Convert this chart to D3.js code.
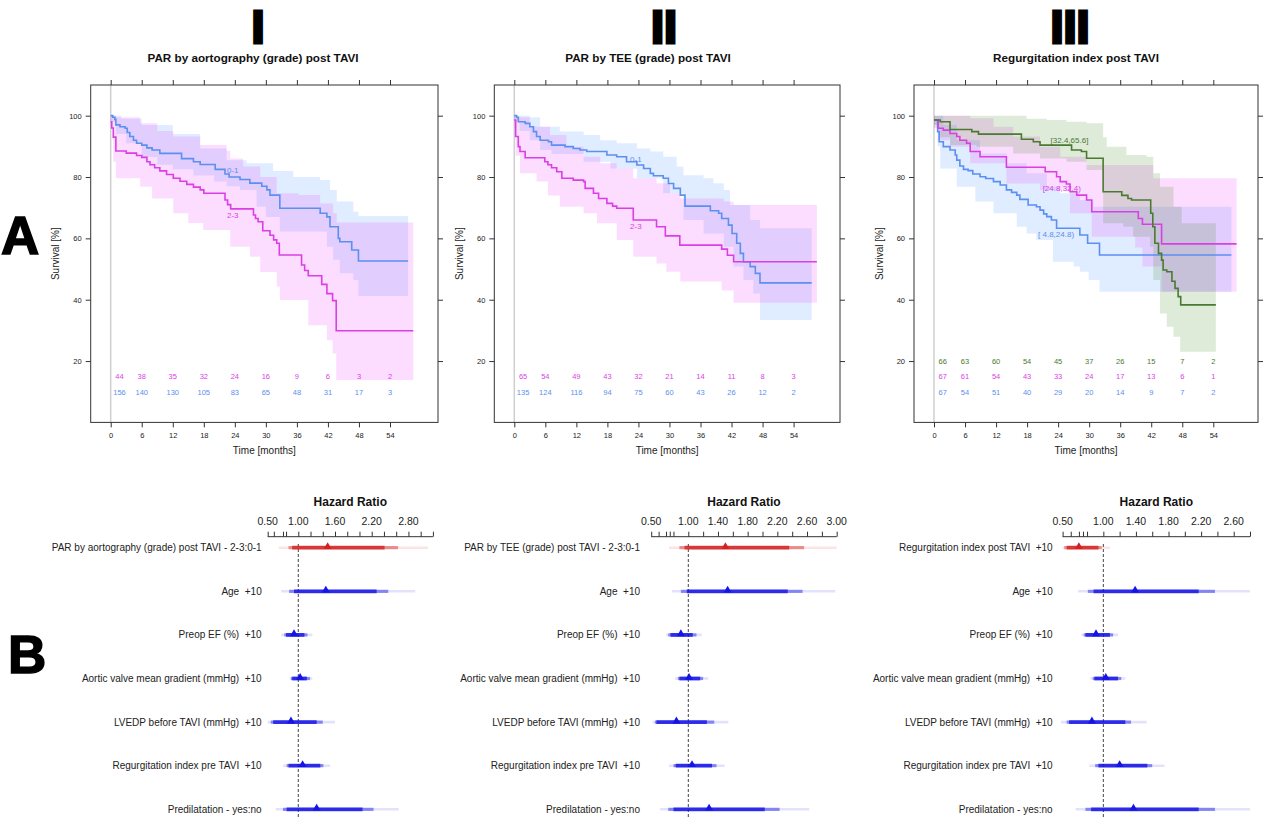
<!DOCTYPE html>
<html><head><meta charset="utf-8">
<script src="https://cdn.jsdelivr.net/npm/d3@7/dist/d3.min.js"></script>
<style>
body{margin:0;background:#fff}
svg{display:block}
text{font-family:"Liberation Sans",Arial,Helvetica,sans-serif}
.pre{white-space:pre}
</style>
</head><body>
<script>
// ================= DATA =================
const riskTimes = [0,6,12,18,24,30,36,42,48,54];
const xTicksKM = [0,6,12,18,24,30,36,42,48,54];
const yTicksKM = [20,40,60,80,100];

// Panel I : PAR by aortography
const p1_01_line = [[0,100],[0.4,99.5],[0.8,98.8],[1,97],[1.8,96.4],[2.8,95.9],[3.2,94.5],[3.7,93.2],[4.4,92],[5,91],[6,90.4],[7,89.5],[8,88.8],[9.5,87.7],[13.7,86],[16,85],[17.3,84.1],[20.2,82.5],[22.1,81],[22.9,80],[25,79.2],[26.9,78],[29.2,77],[30.2,75.8],[30.8,74.1],[32.7,69.8],[40.5,68.2],[41.8,67],[42.4,63.8],[44,60],[44.3,58.9],[46.6,56.2],[47.9,52.6],[57.5,52.6]];
const p1_01_lo = [[0,98],[1,94],[3,91],[6,86.5],[9,84],[12,82.5],[16,80.5],[20,78.5],[22.4,77],[25,75.8],[28.2,70.3],[30,67],[32.7,62.2],[41.8,57.3],[43,53],[44.3,48.6],[46.9,46.4],[47.9,41.2]];
const p1_01_hi = [[0,100],[2,99],[6,97],[12,94],[17.3,89.3],[22.4,85.5],[26.3,84.5],[31.4,82],[35.3,80],[40.5,79],[42.4,75.8],[43.7,72],[46.9,68.7],[47.9,67.3]];
const p1_23_line = [[0,98],[0.2,96],[0.5,93],[1,88.5],[3,87.8],[5,87],[6,86.4],[7,85],[7.6,84],[8.5,83],[9.5,82],[10.8,80.8],[12.1,79.6],[13.4,78.6],[14.7,77.6],[16,76.7],[17.3,75.8],[18,74.7],[22.1,72.5],[22.6,71],[23.2,69.6],[27.6,67.6],[28,66.5],[28.5,65.4],[29.4,62.5],[30.8,61],[31.5,59.5],[32.1,58.4],[32.6,54.6],[36.9,51.3],[37.5,49.5],[38.2,47.8],[40.8,45],[41.8,42],[42.9,39.7],[43.6,29.9],[58.5,29.9]];
const p1_23_lo = [[0,96],[0.5,85],[1,79.6],[5.7,76.8],[8,73],[12.1,68.2],[15,65],[17.9,62.7],[23.1,57.3],[26.9,54],[28.9,49],[32.1,44.2],[32.7,39.9],[38.2,31.7],[41.8,26.8],[42.9,22.5],[43.6,13.8]];
const p1_23_hi = [[0,100],[1,99.5],[5.7,97.5],[9,95],[12.1,93.2],[17.3,90.4],[22.4,88.6],[23.1,86],[25.6,83.4],[28.9,80],[32.1,74.7],[36.3,74.1],[40.5,71.4],[43,68.2],[43.7,65.2]];
const p1_risk_23 = [44,38,35,32,24,16,9,6,3,2];
const p1_risk_01 = [156,140,130,105,83,65,48,31,17,3];

// Panel II : PAR by TEE
const p2_01_line = [[0,100],[0.45,99.5],[0.77,98],[2.1,97.5],[3,96.4],[3.7,94.8],[4.3,93.2],[5,92],[6.6,91.5],[7.2,90.4],[9.8,89.9],[11.4,89.3],[12.7,88.8],[14,88.3],[17.9,87.2],[19.8,86.6],[21.7,85],[23.7,83.9],[25,82.8],[26.3,81.2],[26.9,80.4],[28.8,79.6],[29.8,77.9],[30.8,76.3],[32.1,74.1],[33,70.5],[37.9,69],[39.5,68.2],[40.1,66.5],[41.4,64.3],[42.1,61.6],[43,58.4],[43.7,55.1],[44.3,52.4],[45.6,50.8],[46.6,48.6],[47.5,45.5],[57.5,45.5]];
const p2_01_lo = [[0,98],[1,95],[3,92],[5,88.8],[7.2,87.5],[13.4,85],[18.6,82.8],[23.7,79.6],[28.8,74.7],[32.7,66],[36.6,61.6],[40.5,57.3],[42.4,50.8],[44.3,46.4],[46.2,42],[47.5,33.4]];
const p2_01_hi = [[0,100],[3,99.5],[5,96.4],[8.8,94.8],[13.4,93.7],[16.6,92],[19.8,91],[23.7,89.3],[26.3,88.3],[28.8,86.6],[31.4,83.4],[32.7,80.6],[36.6,79.6],[38.5,78],[40.5,75.8],[41.7,70.9],[45.6,66],[47.5,63.3]];
const p2_23_line = [[0,98.6],[0.26,93.2],[0.77,89.9],[1.1,88.3],[2.1,86.3],[5.9,85],[6.5,84],[7.2,83],[8.2,81.7],[9.2,79.6],[11.4,79],[13.4,78.5],[13.7,76.3],[15.3,74.7],[16.3,73],[17.9,71.4],[19,70.5],[19.8,69.8],[23,66],[27.5,63.8],[29.2,60.8],[32,57.8],[40.1,56.5],[41.2,54.5],[42.4,52.4],[58.5,52.4]];
const p2_23_lo = [[0,96],[0.26,87],[1.1,81.2],[4.3,78.5],[6.5,74],[8.8,70.3],[13.4,68.2],[16,64.9],[19.8,59.5],[23,54],[27.5,51.8],[29.4,49.1],[32.1,45.9],[40.1,43],[42.4,39]];
const p2_23_hi = [[0,100],[0.26,99.5],[3,96.4],[6.9,93.7],[10.1,89.9],[13.4,86.6],[16.6,84.5],[19.8,82.8],[23,79.6],[27.5,78],[30.1,74.7],[32.1,73],[40.5,72],[42.4,70.9]];
const p2_risk_23 = [65,54,49,43,32,21,14,11,8,3];
const p2_risk_01 = [135,124,116,94,75,60,43,26,12,2];

// Panel III : Regurgitation index post TAVI
const p3_a_line = [[0,98.6],[0.7,94.8],[1,91.5],[1.8,89.9],[3.1,88.8],[4.1,87.2],[4.4,85.5],[5,83.6],[5.7,82.5],[6.6,82.1],[7.5,81],[8.9,80.1],[10,79.5],[11.5,78.5],[12.8,77.4],[14,75.8],[15,75],[16,74.1],[16.6,72.7],[18.2,70.9],[19.8,70.3],[20.5,69.2],[21.2,68],[21.8,67.1],[22.7,66],[23.7,63.3],[28.2,61.1],[29.7,58.4],[32,54.6],[57.5,54.6]];
const p3_a_lo = [[0,97],[0.7,90],[1.2,82.8],[4.4,76.8],[8,72],[11.5,68.2],[16,63.8],[17.9,61.6],[19.8,59.5],[23,52.4],[27,50.8],[28.2,49.1],[29.9,46.4],[32,42.6]];
const p3_a_hi = [[0,100],[1.8,97],[4.4,92],[8.9,87.7],[14,84.5],[17.9,81.2],[21.8,76.8],[24.4,74.7],[28.2,72.5],[30.8,70.3]];
const p3_b_line = [[0,98.6],[0.8,95.9],[1.8,95.3],[3.1,94.2],[4.4,93.2],[5,92],[6.3,91],[7,88.3],[8.9,86.6],[14,83.2],[21.5,81.7],[23.7,80.1],[24.4,78.5],[25.6,77.7],[26.3,75.2],[27.6,74.1],[29.5,72.5],[30.5,68.7],[39.5,66.5],[40.3,64.6],[44,58.2],[58.5,58.2]];
const p3_b_lo = [[0,97],[0.8,92],[3.1,89.9],[7,84.5],[14,77.9],[20.5,75.8],[26.3,68.2],[30.5,60.5],[38.9,57],[40.3,50.8],[44,42.6]];
const p3_b_hi = [[0,100],[7,99.2],[11.5,96.4],[15.3,93.2],[20.5,89.9],[24.4,86.6],[29.5,83.9],[42.4,79.6]];
const p3_c_line = [[0,98.6],[1.2,98],[3.1,95.5],[7.3,94.8],[8.6,94],[16.9,92.3],[19.2,91.5],[20.5,90.4],[26.6,88.8],[28.5,88.3],[29.5,86.1],[32.7,75.2],[36.3,74],[37.5,73],[38.2,72.5],[41.9,68.2],[42.3,63.8],[42.7,58.4],[43.4,55.1],[44,52.9],[44.3,49.7],[45,49.1],[46,46],[46.6,43.7],[47.2,41],[47.7,38.3],[54.5,38.3]];
const p3_c_lo = [[0,96],[1.2,93],[3.1,90.4],[8.2,89.9],[15.3,87.7],[20.5,86],[25.6,85],[29.5,82.3],[32.7,64.9],[36.6,63.8],[38.5,60.5],[41.8,57.3],[42.4,46.4],[43.7,35.5],[45,31.2],[46.3,27.9],[47.6,23]];
const p3_c_hi = [[0,100],[17.9,99],[21.8,98.6],[25.6,98],[29.5,97.5],[32.7,93],[33.4,89.9],[37.2,87.2],[41.1,86.6],[42.4,81.2],[43.7,76.8],[46.3,70.3],[47.9,64.9]];
const p3_risk_c = [66,63,60,54,45,37,26,15,7,2];
const p3_risk_b = [67,61,54,43,33,24,17,13,6,1];
const p3_risk_a = [67,54,51,40,29,20,14,9,7,2];

// Forest plots (hazard ratios with 90/95/99% intervals)
const fI_labels = ["PAR by aortography (grade) post TAVI - 2-3:0-1","Age  +10","Preop EF (%)  +10","Aortic valve mean gradient (mmHg)  +10","LVEDP before TAVI (mmHg)  +10","Regurgitation index pre TAVI  +10","Predilatation - yes:no"];
const fI_est  = [1.48,1.45,0.93,1.03,0.88,1.07,1.30];
const fI_lo90 = [0.90,0.93,0.80,0.90,0.59,0.84,0.81];
const fI_hi90 = [2.41,2.28,1.10,1.14,1.30,1.36,2.05];
const fI_lo95 = [0.84,0.85,0.77,0.88,0.55,0.81,0.75];
const fI_hi95 = [2.63,2.47,1.15,1.19,1.40,1.41,2.23];
const fI_lo99 = [0.68,0.72,0.72,0.86,0.50,0.75,0.63];
const fI_hi99 = [3.12,2.91,1.23,1.23,1.60,1.52,2.64];
const fI_ticks = [0.5,0.6,0.75,0.8,1.0,1.2,1.4,1.6,1.8,2.0,2.2,2.4,2.6,2.8,3.0,3.2];
const fI_tickLabels = [0.5,1.0,1.6,2.2,2.8];

const fII_labels = ["PAR by TEE (grade) post TAVI - 2-3:0-1","Age  +10","Preop EF (%)  +10","Aortic valve mean gradient (mmHg)  +10","LVEDP before TAVI (mmHg)  +10","Regurgitation index pre TAVI  +10","Predilatation - yes:no"];
const fII_est  = [1.50,1.53,0.90,1.01,0.84,1.05,1.28];
const fII_lo90 = [0.95,0.98,0.76,0.88,0.57,0.83,0.80];
const fII_hi90 = [2.36,2.34,1.06,1.16,1.25,1.32,2.03];
const fII_lo95 = [0.88,0.90,0.73,0.86,0.55,0.80,0.73];
const fII_hi95 = [2.56,2.54,1.11,1.20,1.35,1.38,2.23];
const fII_lo99 = [0.74,0.78,0.70,0.82,0.52,0.74,0.62];
const fII_hi99 = [3.02,2.98,1.18,1.27,1.54,1.49,2.63];
const fII_ticks = [0.5,0.6,0.7,0.75,0.8,1.0,1.2,1.4,1.6,1.8,2.0,2.2,2.4,2.6,2.8,3.0];
const fII_tickLabels = [0.5,1.0,1.4,1.8,2.2,2.6,3.0];

const fIII_labels = ["Regurgitation index post TAVI  +10","Age  +10","Preop EF (%)  +10","Aortic valve mean gradient (mmHg)  +10","LVEDP before TAVI (mmHg)  +10","Regurgitation index pre TAVI  +10","Predilatation - yes:no"];
const fIII_est  = [0.70,1.39,0.91,1.03,0.86,1.20,1.37];
const fIII_lo90 = [0.55,0.88,0.78,0.89,0.58,0.94,0.85];
const fIII_hi90 = [0.94,2.17,1.08,1.18,1.27,1.54,2.17];
const fIII_lo95 = [0.52,0.81,0.76,0.87,0.55,0.90,0.78];
const fIII_hi95 = [0.98,2.37,1.12,1.22,1.34,1.60,2.37];
const fIII_lo99 = [0.50,0.69,0.73,0.84,0.48,0.83,0.66];
const fIII_hi99 = [1.08,2.80,1.18,1.27,1.53,1.75,2.80];
const fIII_ticks = [0.5,0.6,0.7,0.75,0.8,1.0,1.2,1.4,1.6,1.8,2.0,2.2,2.4,2.6,2.8];
const fIII_tickLabels = [0.5,1.0,1.4,1.8,2.2,2.6];

// ================= STYLE =================
const C = {
  blue:{line:"#5b8ff0", fill:"#2f7fff", op:0.15},
  pink:{line:"#d93fe3", fill:"#ee44ff", op:0.18},
  green:{line:"#4a7a30", fill:"#3a8a20", op:0.17}
};
const FB = {blue:[20,20,230], red:[212,32,32]};

const svg = d3.select("body").append("svg").attr("width",1266).attr("height",818);

// Big letters
svg.append("text").attr("x",1).attr("y",254).attr("font-size",53).attr("font-weight","bold")
  .attr("stroke","#000").attr("stroke-width",1.5).text("A");
svg.append("text").attr("x",8).attr("y",673).attr("font-size",53).attr("font-weight","bold")
  .attr("stroke","#000").attr("stroke-width",1.5).text("B");

function mergeBand(lo, hi, end){
  const ts = Array.from(new Set([...lo.map(d=>d[0]), ...hi.map(d=>d[0])])).sort((a,b)=>a-b);
  const val=(arr,t)=>{let v=arr[0][1]; for(const d of arr){ if(d[0]<=t) v=d[1]; } return v;};
  const pts = ts.map(t=>({t, lo:val(lo,t), hi:val(hi,t)}));
  pts.push({t:end, lo:val(lo,end), hi:val(hi,end)});
  return pts;
}

function drawKM(cfg){
  const g = svg.append("g");
  const x = d3.scaleLinear().domain([0,54]).range([cfg.x0, cfg.x0+279.3]);
  const y = d3.scaleLinear().domain([0,110]).range([422.4, 85]);
  const top=85, bot=422.4;
  // numeral & title
  g.append("text").attr("x",cfg.numX).attr("y",42.8).attr("text-anchor","middle")
    .attr("font-size",47).attr("font-weight","bold").attr("stroke","#000").attr("stroke-width",3)
    .attr("stroke-linejoin","miter").text(cfg.numeral);
  g.append("text").attr("x",cfg.titleX).attr("y",61.5).attr("text-anchor","middle")
    .attr("font-size",11.7).attr("font-weight","bold").attr("fill","#111").text(cfg.title);
  const clipId = "clip"+cfg.numeral;
  g.append("clipPath").attr("id",clipId).append("rect")
    .attr("x",cfg.boxL).attr("y",top).attr("width",cfg.boxR-cfg.boxL).attr("height",bot-top);
  const plot = g.append("g").attr("clip-path",`url(#${clipId})`);
  // zero line
  plot.append("line").attr("x1",x(0)).attr("x2",x(0)).attr("y1",top).attr("y2",bot)
    .attr("stroke","#cfcfcf").attr("stroke-width",1.5);
  // bands
  const area = d3.area().curve(d3.curveStepAfter).x(d=>x(d.t)).y0(d=>y(d.lo)).y1(d=>y(d.hi));
  cfg.groups.forEach(gr=>{
    const end = gr.line[gr.line.length-1][0];
    plot.append("path").datum(mergeBand(gr.lo, gr.hi, end)).attr("d",area)
      .attr("fill",C[gr.col].fill).attr("fill-opacity",C[gr.col].op);
  });
  const line = d3.line().curve(d3.curveStepAfter).x(d=>x(d[0])).y(d=>y(d[1]));
  cfg.groups.forEach(gr=>{
    plot.append("path").datum(gr.line).attr("d",line).attr("fill","none")
      .attr("stroke",C[gr.col].line).attr("stroke-width",1.6);
    plot.append("text").attr("x",x(gr.lab[0])).attr("y",y(gr.lab[1])).attr("dy","0.35em")
      .attr("text-anchor","middle").attr("font-size",8).attr("fill",C[gr.col].line).text(gr.name);
    gr.risk.forEach((n,i)=>{
      plot.append("text").attr("x",x(Math.max(riskTimes[i],1.7))).attr("y",y(gr.riskY)).attr("dy","0.35em")
        .attr("text-anchor","middle").attr("font-size",7.5).attr("fill",C[gr.col].line).text(n);
    });
  });
  // box
  g.append("rect").attr("x",cfg.boxL).attr("y",top).attr("width",cfg.boxR-cfg.boxL).attr("height",bot-top)
    .attr("fill","none").attr("stroke","#333").attr("stroke-width",1);
  // axes
  const styleAxis = sel=>{ sel.select(".domain").remove(); sel.selectAll("line").attr("stroke","#333");
    sel.selectAll("text").attr("font-size",7.5).attr("fill","#222").attr("font-family","Liberation Sans, Arial, sans-serif"); };
  g.append("g").attr("transform",`translate(0,${bot})`)
    .call(d3.axisBottom(x).tickValues(xTicksKM).tickSize(5).tickPadding(5)).call(styleAxis);
  g.append("g").attr("transform",`translate(0,${top})`)
    .call(d3.axisTop(x).tickValues(xTicksKM).tickSize(5).tickFormat("")).call(styleAxis);
  g.append("g").attr("transform",`translate(${cfg.boxL},0)`)
    .call(d3.axisLeft(y).tickValues(yTicksKM).tickSize(5).tickPadding(4)).call(styleAxis);
  g.append("g").attr("transform",`translate(${cfg.boxR},0)`)
    .call(d3.axisRight(y).tickValues(yTicksKM).tickSize(5).tickFormat("")).call(styleAxis);
  g.append("text").attr("x",(cfg.boxL+cfg.boxR)/2).attr("y",453.5).attr("text-anchor","middle")
    .attr("font-size",10).attr("fill","#222").text("Time [months]");
  g.append("text").attr("transform",`translate(${cfg.boxL-35},${(top+bot)/2}) rotate(-90)`)
    .attr("text-anchor","middle").attr("dy","0.35em").attr("font-size",10).attr("fill","#222").text("Survival [%]");
}

drawKM({numeral:"I", title:"PAR by aortography (grade) post TAVI", numX:258, titleX:253,
  boxL:90.7, boxR:438, x0:110.7,
  groups:[
    {name:"0-1", col:"blue", line:p1_01_line, lo:p1_01_lo, hi:p1_01_hi, lab:[23.6,82.3], risk:p1_risk_01, riskY:9.9},
    {name:"2-3", col:"pink", line:p1_23_line, lo:p1_23_lo, hi:p1_23_hi, lab:[23.6,67.6], risk:p1_risk_23, riskY:14.9}
  ]});
drawKM({numeral:"II", title:"PAR by TEE (grade) post TAVI", numX:664, titleX:648,
  boxL:494.3, boxR:840, x0:514.3,
  groups:[
    {name:"0-1", col:"blue", line:p2_01_line, lo:p2_01_lo, hi:p2_01_hi, lab:[23.5,85.8], risk:p2_risk_01, riskY:9.9},
    {name:"2-3", col:"pink", line:p2_23_line, lo:p2_23_lo, hi:p2_23_hi, lab:[23.5,64.1], risk:p2_risk_23, riskY:14.9}
  ]});
drawKM({numeral:"III", title:"Regurgitation index post TAVI", numX:1070, titleX:1076,
  boxL:914, boxR:1258, x0:934,
  groups:[
    {name:"[ 4.8,24.8)", col:"blue", line:p3_a_line, lo:p3_a_lo, hi:p3_a_hi, lab:[23.6,61.4], risk:p3_risk_a, riskY:9.9},
    {name:"[24.8,32.4)", col:"pink", line:p3_b_line, lo:p3_b_lo, hi:p3_b_hi, lab:[24.7,76.5], risk:p3_risk_b, riskY:14.9},
    {name:"[32.4,65.6]", col:"green", line:p3_c_line, lo:p3_c_lo, hi:p3_c_hi, lab:[26.2,92.1], risk:p3_risk_c, riskY:19.9}
  ]});

// ================= FOREST =================
function rgba(c,a){return `rgba(${c[0]},${c[1]},${c[2]},${a})`;}
function drawForest(cfg){
  const g = svg.append("g");
  const x = d3.scaleLinear().domain(cfg.domain).range(cfg.range);
  const axisY = 536.7;
  const rowY = i => 547.7 + i*43.6;
  g.append("text").attr("x",(cfg.range[0]+cfg.range[1])/2).attr("y",505.5).attr("text-anchor","middle")
    .attr("font-size",12).attr("font-weight","bold").attr("fill","#111").text("Hazard Ratio");
  const ax = g.append("g").attr("transform",`translate(0,${axisY})`)
    .call(d3.axisTop(x).tickValues(cfg.ticks).tickSize(5).tickFormat(""));
  ax.select(".domain").attr("stroke","#333").attr("d",`M${x(cfg.ticks[0])},0H${x(cfg.ticks[cfg.ticks.length-1])}`);
  ax.selectAll("line").attr("stroke","#333");
  g.selectAll(null).data(cfg.tickLabels).enter().append("text")
    .attr("x",d=>x(d)).attr("y",524.5).attr("text-anchor","middle").attr("font-size",10.5).attr("fill","#222")
    .text(d=>d3.format(".2f")(d));
  // dashed reference
  g.append("line").attr("x1",x(1)).attr("x2",x(1)).attr("y1",544).attr("y2",818)
    .attr("stroke","#444").attr("stroke-width",1).attr("stroke-dasharray","3,2");
  cfg.labels.forEach((lab,i)=>{
    const col = i===0 ? FB.red : FB.blue;
    const yy = rowY(i);
    g.append("text").attr("class","pre").attr("x",cfg.labelX).attr("y",yy).attr("dy","0.35em")
      .attr("text-anchor","end").attr("font-size",10).attr("fill","#222").text(lab);
    const segs = [[cfg.lo99[i],cfg.hi99[i],0.12,2.6],[cfg.lo95[i],cfg.hi95[i],0.45,3.2],[cfg.lo90[i],cfg.hi90[i],0.8,3.8]];
    segs.forEach(s=>{
      g.append("line").attr("x1",x(Math.max(s[0],cfg.domain[0]-0.03))).attr("x2",x(Math.min(s[1],cfg.domain[1])))
        .attr("y1",yy).attr("y2",yy).attr("stroke",rgba(col,s[2])).attr("stroke-width",s[3]);
    });
    g.append("path").attr("d",d3.symbol(d3.symbolTriangle,27)())
      .attr("transform",`translate(${x(cfg.est[i])},${yy-1})`).attr("fill",rgba(col,1));
  });
}
drawForest({domain:[0.5,3.2], range:[267.7,432.9], ticks:fI_ticks, tickLabels:fI_tickLabels, labelX:261.7,
  labels:fI_labels, est:fI_est, lo90:fI_lo90, hi90:fI_hi90, lo95:fI_lo95, hi95:fI_hi95, lo99:fI_lo99, hi99:fI_hi99});
drawForest({domain:[0.5,3.0], range:[651.2,836.7], ticks:fII_ticks, tickLabels:fII_tickLabels, labelX:640,
  labels:fII_labels, est:fII_est, lo90:fII_lo90, hi90:fII_hi90, lo95:fII_lo95, hi95:fII_hi95, lo99:fII_lo99, hi99:fII_hi99});
drawForest({domain:[0.5,2.8], range:[1062.6,1250], ticks:fIII_ticks, tickLabels:fIII_tickLabels, labelX:1052.7,
  labels:fIII_labels, est:fIII_est, lo90:fIII_lo90, hi90:fIII_hi90, lo95:fIII_lo95, hi95:fIII_hi95, lo99:fIII_lo99, hi99:fIII_hi99});
</script>
</body></html>
